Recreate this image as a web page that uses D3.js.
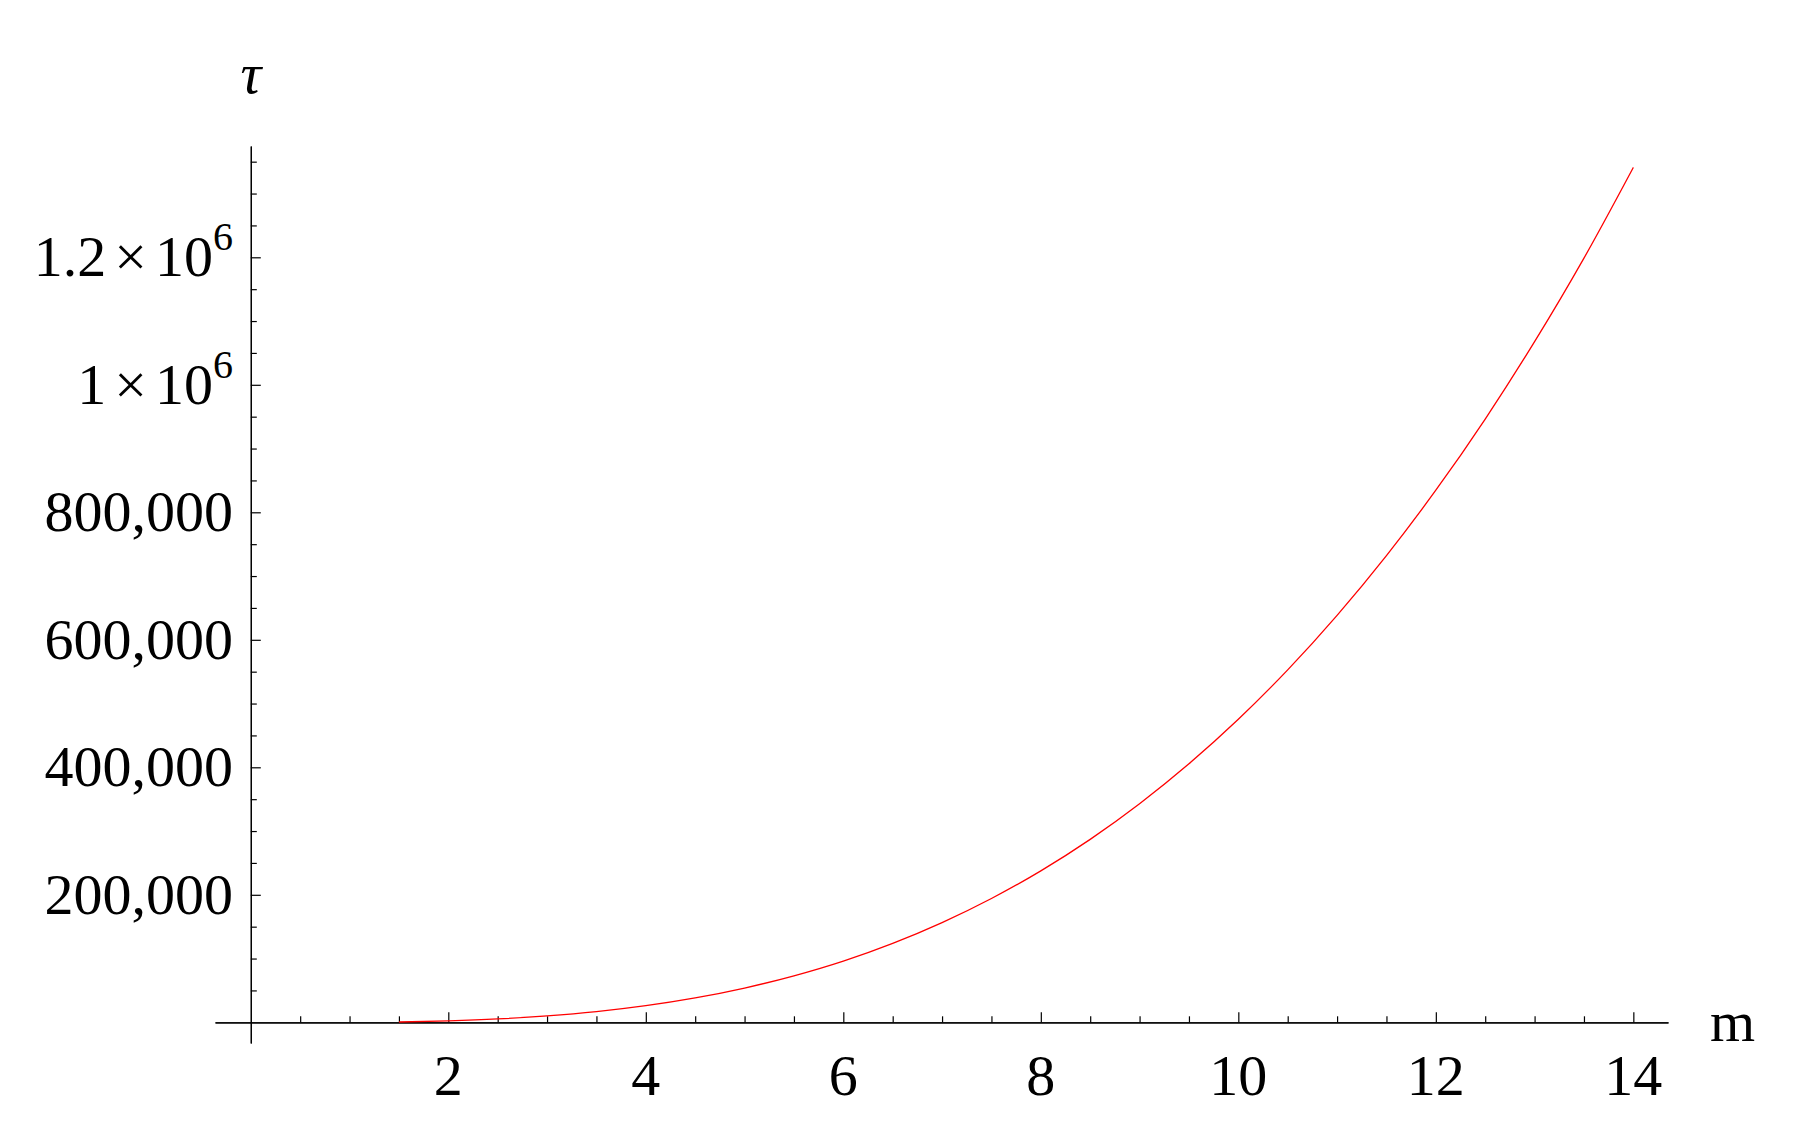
<!DOCTYPE html>
<html>
<head>
<meta charset="utf-8">
<script src="https://cdn.jsdelivr.net/npm/d3@7"></script>
<style>
  body { margin: 0; background: #fff; }
  text { font-family: "Liberation Serif", "DejaVu Serif", serif; fill: #000; }
</style>
</head>
<body>
<script>
w = 1795;
h = 1133;

// m values and tau
var mValues = [1.5, 2, 2.5, 3, 3.5, 4, 4.5, 5, 5.5, 6, 6.5, 7, 7.5, 8, 8.5, 9, 9.5, 10, 10.5, 11, 11.5, 12, 12.5, 13, 13.5, 14];
var tauValues = [500, 2300, 5300, 10000, 16700, 26000, 38200, 53700, 72900, 96000, 123800, 156400, 194200, 237600, 287000, 342900, 405500, 475400, 552800, 638300, 732100, 834600, 946300, 1067600, 1198700, 1341000];

var xTicks = [2, 4, 6, 8, 10, 12, 14];
var xTickLabels = ["2", "4", "6", "8", "10", "12", "14"];
var yTicks = [200000, 400000, 600000, 800000, 1000000, 1200000];
var yTickLabels = ["200,000", "400,000", "600,000", "800,000", "1×10^6", "1.2×10^6"];

var data = mValues.map(function (m, i) { return { m: m, tau: tauValues[i] }; });

var xScale = d3.scaleLinear()
    .domain([-0.3625, 14.351])
    .range([215, 1668]);

var yScale = d3.scaleLinear()
    .domain([-32470, 1374590])
    .range([1043, 146]);

var svg = d3.select("body")
    .append("svg")
    .attr("width", w)
    .attr("height", h);

var x0 = xScale(0), y0 = yScale(0);

// minor ticks every 0.5 on x, every 50000 on y
var xMinor = d3.range(1, 29).map(function (k) { return k / 2; })
    .filter(function (v) { return v % 2 !== 0; });
var yMinor = d3.range(1, 28).map(function (k) { return k * 50000; })
    .filter(function (v) { return v % 200000 !== 0; });

var xAxis = d3.axisBottom(xScale).tickValues(xTicks).tickSize(-10).tickSizeOuter(0).tickFormat("");
var xAxisMinor = d3.axisBottom(xScale).tickValues(xMinor).tickSize(-6).tickSizeOuter(0).tickFormat("");
var yAxis = d3.axisLeft(yScale).tickValues(yTicks).tickSize(-10).tickSizeOuter(0).tickFormat("");
var yAxisMinor = d3.axisLeft(yScale).tickValues(yMinor).tickSize(-6).tickSizeOuter(0).tickFormat("");

svg.append("g").attr("transform", "translate(0," + y0 + ")").call(xAxis);
svg.append("g").attr("transform", "translate(0," + y0 + ")").call(xAxisMinor);
svg.append("g").attr("transform", "translate(" + x0 + ",0)").call(yAxis);
svg.append("g").attr("transform", "translate(" + x0 + ",0)").call(yAxisMinor);
svg.selectAll(".domain, .tick line").attr("stroke", "#000").attr("stroke-width", 1.2);

// x tick labels
svg.selectAll("text.xlab")
    .data(xTicks)
    .enter()
    .append("text")
    .attr("class", "xlab")
    .attr("x", function (d) { return xScale(d); })
    .attr("y", 1095)
    .attr("text-anchor", "middle")
    .attr("font-size", 58)
    .text(function (d, i) { return xTickLabels[i]; });

// y tick labels
svg.selectAll("text.ylab")
    .data(yTicks)
    .enter()
    .append("text")
    .attr("class", "ylab")
    .attr("x", 233)
    .attr("y", function (d) { return yScale(d) + 19; })
    .attr("text-anchor", "end")
    .attr("font-size", 58)
    .each(function (d, i) {
        var t = d3.select(this);
        var lab = yTickLabels[i];
        if (lab.indexOf("^") < 0) { t.text(lab); return; }
        var parts = lab.split("^");
        var base = parts[0].split("×");
        t.append("tspan").text(base[0]);
        t.append("tspan").attr("dx", 8).text("×");
        t.append("tspan").attr("dx", 8).text(base[1]);
        t.append("tspan").attr("dy", -26).attr("font-size", 40).text(parts[1]);
    });

// axis labels
svg.append("text")
    .attr("x", x0)
    .attr("y", 93)
    .attr("text-anchor", "middle")
    .attr("font-size", 58)
    .attr("font-style", "italic")
    .text("τ");

svg.append("text")
    .attr("x", 1710)
    .attr("y", 1041)
    .attr("font-size", 58)
    .text("m");

// the curve
var line = d3.line()
    .x(function (d) { return xScale(d.m); })
    .y(function (d) { return yScale(d.tau); })
    .curve(d3.curveMonotoneX);

svg.append("path")
    .datum(data)
    .attr("d", line)
    .attr("fill", "none")
    .attr("stroke", "#ff0000")
    .attr("stroke-width", 1.3);
</script>
</body>
</html>
